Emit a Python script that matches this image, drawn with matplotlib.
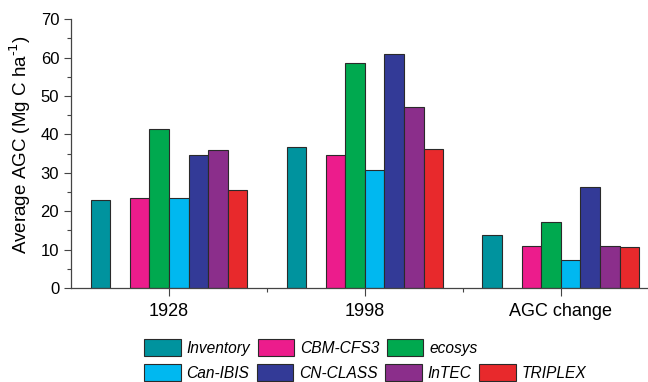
import numpy as np
import matplotlib.pyplot as plt
from matplotlib.patches import Patch

plt.rcParams['font.family'] = ['Liberation Sans', 'DejaVu Sans']

groups = ['1928', '1998', 'AGC change']
models = ['Inventory', 'CBM-CFS3', 'ecosys', 'Can-IBIS', 'CN-CLASS', 'InTEC', 'TRIPLEX']
colors = ['#00939e', '#ec1c8c', '#00a94f', '#00b8f0', '#333a97', '#8b2e8b', '#e8292c']

inventory = [23.0, 36.6, 13.7]
cbm_cfs3 = [23.5, 34.5, 11.0]
ecosys = [41.4, 58.5, 17.2]
can_ibis = [23.5, 30.7, 7.3]
cn_class = [34.5, 60.8, 26.2]
intec = [36.0, 47.1, 11.0]
triplex = [25.5, 36.2, 10.7]
series = [inventory, cbm_cfs3, ecosys, can_ibis, cn_class, intec, triplex]

# inventory sits apart from the model bars, one empty slot between
offsets = [-0.35, -0.15, -0.05, 0.05, 0.15, 0.25, 0.35]
width = 0.1

fig = plt.figure(figsize=(6.48, 3.82), dpi=100)
ax = fig.add_axes([0.1096, 0.246, 0.907, 0.704])

x = np.arange(len(groups))
for vals, off, c in zip(series, offsets, colors):
    ax.bar(x + off, vals, width, color=c, edgecolor='#2a2a2a', linewidth=0.8)

ax.set_xlim(-0.5, 2.5)
ax.set_ylim(0, 70)
ax.set_xticks(x)
ax.set_xticklabels(groups)
ax.set_xticks([0.5, 1.5], minor=True)
ax.set_yticks(np.arange(0, 71, 10))
ax.set_yticks(np.arange(5, 70, 10), minor=True)
ax.tick_params(axis='both', which='major', length=5, width=0.8, color='#444444')
ax.tick_params(axis='both', which='minor', length=3, width=0.8, color='#444444')
ax.tick_params(axis='x', which='major', length=6, pad=5, labelsize=13)
ax.tick_params(axis='y', which='major', labelsize=12)
for s in ['top', 'right']:
    ax.spines[s].set_visible(False)
for s in ['left', 'bottom']:
    ax.spines[s].set_color('#444444')
    ax.spines[s].set_linewidth(0.9)

ax.set_ylabel(r'Average AGC (Mg C ha$^{\text{-}1}$)', fontsize=13.5)
ax.yaxis.set_label_coords(-0.064, 0.535)

# legend in two independent rows
h = [Patch(facecolor=c, edgecolor='#2a2a2a', linewidth=0.8) for c in colors]
opts = dict(loc='upper left', frameon=False, prop={'style': 'italic', 'size': 11.2},
            handlelength=2.35, handleheight=1.3, handletextpad=0.38,
            columnspacing=0.48, borderaxespad=0, borderpad=0)
fig.legend(h[:3], models[:3], ncol=3, bbox_to_anchor=(144 / 648, 1 - 339 / 382), **opts)
fig.legend(h[3:], models[3:], ncol=4, bbox_to_anchor=(144 / 648, 1 - 364 / 382), **opts)

fig.savefig('out.png', dpi=100)
